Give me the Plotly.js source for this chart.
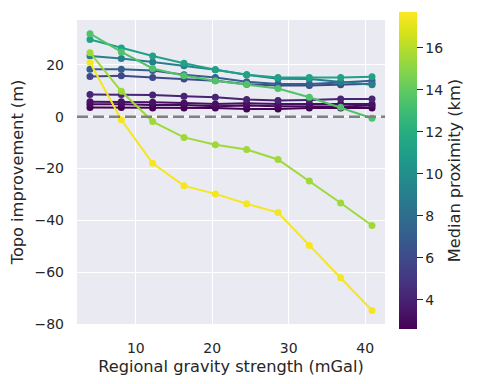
<!DOCTYPE html>
<html>
<head>
<meta charset="utf-8">
<script src="https://cdn.plot.ly/plotly-3.0.1.min.js"></script>
<style>
html,body{margin:0;padding:0;background:#fff;}
#chart{width:481px;height:384px;}
</style>
</head>
<body>
<div id="chart"></div>
<script>
// Regional gravity strength (mGal)
const gravity = [4.0, 8.1, 12.2, 16.3, 20.4, 24.5, 28.6, 32.7, 36.8, 40.9];

// Median proximity (km) for each line
const proximity = [2.6, 2.9, 3.2, 4.1, 5.9, 7.1, 9.0, 11.2, 13.5, 15.5, 17.5];

// Topo improvement (m) for each line
const improve_p26  = [3.5, 3.5, 3.3, 3.3, 3.3, 3.0, 3.0, 3.3, 3.3, 3.3];
const improve_p29  = [4.8, 4.8, 4.5, 4.5, 4.0, 4.3, 4.0, 3.9, 3.9, 4.3];
const improve_p32  = [5.8, 5.8, 5.6, 5.3, 4.9, 5.2, 4.9, 4.9, 4.9, 4.9];
const improve_p41  = [8.6, 8.6, 8.4, 7.9, 7.5, 6.6, 6.2, 6.4, 6.8, 6.8];
const improve_p59  = [15.5, 15.8, 15.1, 14.5, 13.9, 12.5, 12.0, 12.0, 12.3, 12.7];
const improve_p71  = [18.3, 18.3, 17.8, 16.2, 15.1, 13.5, 12.6, 12.6, 13.2, 13.9];
const improve_p90  = [23.4, 22.4, 21.1, 19.6, 18.1, 16.2, 14.6, 14.5, 13.5, 12.3];
const improve_p112 = [29.8, 26.5, 23.4, 20.6, 18.1, 16.2, 15.1, 15.1, 15.1, 15.4];
const improve_p135 = [32.0, 25.0, 18.6, 15.8, 13.9, 12.5, 10.9, 7.5, 3.6, -0.6];
const improve_p155 = [24.7, 9.8, -1.9, -8.0, -10.8, -12.7, -16.5, -24.8, -33.3, -42.0];
const improve_p175 = [20.9, -1.2, -18.0, -26.7, -29.8, -33.6, -37.0, -49.7, -62.2, -74.8];

const series = [improve_p26, improve_p29, improve_p32, improve_p41, improve_p59, improve_p71,
                improve_p90, improve_p112, improve_p135, improve_p155, improve_p175];

const yTicks = [-80, -60, -40, -20, 0, 20];
const xTicks = [10, 20, 30, 40];
const cbTicks = [4, 6, 8, 10, 12, 14, 16];

const cmin = 2.6, cmax = 17.7;

// viridis lookup for line colours
const VIR = ['#440154','#48186a','#472d7b','#424086','#3b528b','#33638d','#2c728e','#26828e',
             '#21918c','#1fa088','#28ae80','#3fbc73','#5ec962','#84d44b','#addc30','#d8e219','#fde725'];
function hex2rgb(h){return [parseInt(h.slice(1,3),16),parseInt(h.slice(3,5),16),parseInt(h.slice(5,7),16)];}
function viridis(v){
  let t = (v - cmin) / (cmax - cmin);
  t = Math.max(0, Math.min(1, t));
  const p = t * (VIR.length - 1);
  const i = Math.min(Math.floor(p), VIR.length - 2);
  const f = p - i;
  const a = hex2rgb(VIR[i]), b = hex2rgb(VIR[i+1]);
  const c = a.map((x,k)=>Math.round(x + (b[k]-x)*f));
  return 'rgb(' + c.join(',') + ')';
}

const vscale = VIR.map((c,i)=>[i/(VIR.length-1), c]);

const traces = series.map((ys, i) => ({
  type: 'scatter', mode: 'lines+markers',
  x: gravity, y: ys,
  line: {color: viridis(proximity[i]), width: 2},
  marker: {color: viridis(proximity[i]), size: 7},
  showlegend: false, hoverinfo: 'skip'
}));

const TXT = '#262626';
const FAM = 'DejaVu Sans';

// colorbar carrier
traces.push({
  type: 'scatter', mode: 'markers',
  x: [null], y: [null],
  showlegend: false, hoverinfo: 'skip',
  marker: {
    color: [cmin], cmin: cmin, cmax: cmax, colorscale: vscale, showscale: true,
    colorbar: {
      thickness: 18, lenmode: 'pixels', len: 317,
      x: 1.045, xanchor: 'left', xref: 'paper',
      y: 1.026, yanchor: 'top',
      outlinewidth: 0, xpad: 0, ypad: 0,
      tickvals: cbTicks,
      tickprefix: '\u2002\u2009',
      ticks: 'outside', ticklen: 6, tickwidth: 1.2, tickcolor: TXT,
      tickfont: {family: FAM, size: 14, color: TXT},
      title: {text: 'Median proximity (km)', side: 'right',
              font: {family: FAM, size: 16.2, color: TXT}}
    }
  }
});

const layout = {
  width: 481, height: 384,
  margin: {l: 77, r: 96, t: 18, b: 60},
  paper_bgcolor: '#ffffff',
  plot_bgcolor: '#eaeaf2',
  font: {family: FAM, color: TXT},
  xaxis: {
    range: [2.3, 42.6],
    tickvals: xTicks,
    showgrid: true, gridcolor: '#ffffff', gridwidth: 1.2,
    zeroline: false, showline: false, ticks: '',
    ticklabelstandoff: 14,
    tickfont: {family: FAM, size: 14, color: TXT},
    title: {text: 'Regional gravity strength (mGal)', standoff: 5,
            font: {family: FAM, size: 16.2, color: TXT}}
  },
  yaxis: {
    range: [-80, 37.3],
    tickvals: yTicks,
    showgrid: true, gridcolor: '#ffffff', gridwidth: 1.2,
    zeroline: false, showline: false, ticks: '',
    ticklabelstandoff: 12,
    tickfont: {family: FAM, size: 14, color: TXT},
    title: {text: 'Topo improvement (m)', standoff: 6,
            font: {family: FAM, size: 16.2, color: TXT}}
  },
  shapes: [{
    type: 'line', xref: 'paper', yref: 'y', x0: 0, x1: 1, y0: 0, y1: 0,
    line: {color: '#808080', width: 2.5, dash: '11px,5px'}, layer: 'above'
  }]
};

Plotly.newPlot('chart', traces, layout, {displayModeBar: false, staticPlot: true});
</script>
</body>
</html>
